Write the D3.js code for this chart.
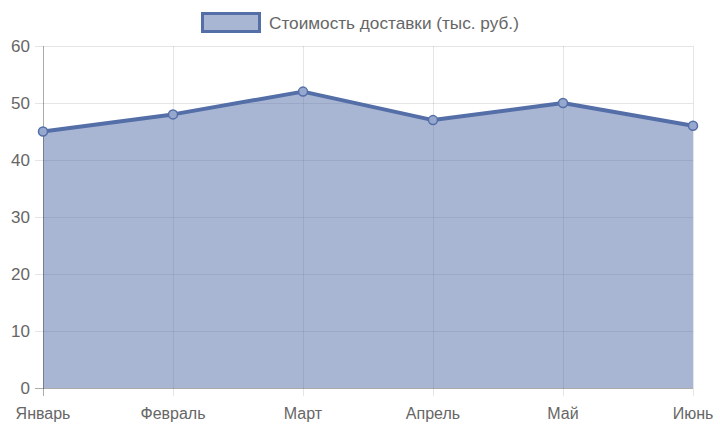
<!DOCTYPE html>
<html><head><meta charset="utf-8">
<script src="https://cdn.jsdelivr.net/npm/d3@7"></script>
<style>html,body{margin:0;padding:0;background:#fff;}svg{display:block;}</style>
</head><body>
<svg id="c" width="720" height="432"></svg>
<script>
const months = ["Январь","Февраль","Март","Апрель","Май","Июнь"];
const values = [45, 48, 52, 47, 50, 46];
const yTicks = [0, 10, 20, 30, 40, 50, 60];
const seriesName = "Стоимость доставки (тыс. руб.)";

const W = 720, H = 432;
const m = {l: 43, r: 27, t: 46, b: 44};
const svg = d3.select("#c");
const font = "'Liberation Sans', Arial, Helvetica, sans-serif";
const lineColor = "rgb(84,110,168)";
const fillColor = "rgba(84,110,168,0.5)";

const x = d3.scalePoint().domain(months).range([m.l, W - m.r]);
const y = d3.scaleLinear().domain([0, 60]).range([H - m.b, m.t]);

// grid
const g = svg.append("g");
g.selectAll(".hg").data(yTicks).join("line")
  .attr("x1", m.l - 8).attr("x2", W - m.r)
  .attr("y1", d => y(d) + 0.5).attr("y2", d => y(d) + 0.5)
  .attr("stroke", "rgba(0,0,0,0.1)").attr("stroke-width", 1);
g.selectAll(".vg").data(months).join("line")
  .attr("x1", d => x(d) + 0.5).attr("x2", d => x(d) + 0.5)
  .attr("y1", m.t).attr("y2", H - m.b + 8)
  .attr("stroke", "rgba(0,0,0,0.1)").attr("stroke-width", 1);

// area
const area = d3.area().x((d, i) => x(months[i])).y0(y(0)).y1(d => y(d));
svg.append("path").datum(values).attr("d", area).attr("fill", fillColor);

// axis lines
svg.append("line").attr("x1", m.l + 0.5).attr("x2", m.l + 0.5).attr("y1", m.t).attr("y2", H - m.b + 8)
  .attr("stroke", "rgba(0,0,0,0.25)");
svg.append("line").attr("x1", m.l - 8).attr("x2", W - m.r).attr("y1", y(0) + 0.5).attr("y2", y(0) + 0.5)
  .attr("stroke", "rgba(0,0,0,0.25)");

// line
const line = d3.line().x((d, i) => x(months[i])).y(d => y(d));
svg.append("path").datum(values).attr("d", line).attr("fill", "none")
  .attr("stroke", lineColor).attr("stroke-width", 4).attr("stroke-linejoin", "round");

// points
svg.selectAll(".pt").data(values).join("circle")
  .attr("cx", (d, i) => x(months[i])).attr("cy", d => y(d)).attr("r", 4.5)
  .attr("fill", "rgb(150,168,205)").attr("stroke", lineColor).attr("stroke-width", 1.5);

// y labels
svg.selectAll(".yl").data(yTicks).join("text")
  .attr("x", 30).attr("y", d => y(d)).attr("dy", "0.35em")
  .attr("text-anchor", "end").attr("font-family", font).attr("font-size", 17).attr("fill", "#666")
  .text(d => d);

// x labels
svg.selectAll(".xl").data(months).join("text")
  .attr("x", d => x(d)).attr("y", 419)
  .attr("text-anchor", "middle").attr("font-family", font).attr("font-size", 16).attr("fill", "#666")
  .text(d => d);

// legend
const lg = svg.append("g");
lg.append("rect").attr("x", 202.5).attr("y", 13.5).attr("width", 57).attr("height", 18)
  .attr("fill", "rgba(84,110,168,0.5)").attr("stroke", lineColor).attr("stroke-width", 3);
lg.append("text").attr("x", 269).attr("y", 23).attr("dy", "0.35em")
  .attr("font-family", font).attr("font-size", 17.2).attr("fill", "#666").text(seriesName);
</script>
</body></html>
